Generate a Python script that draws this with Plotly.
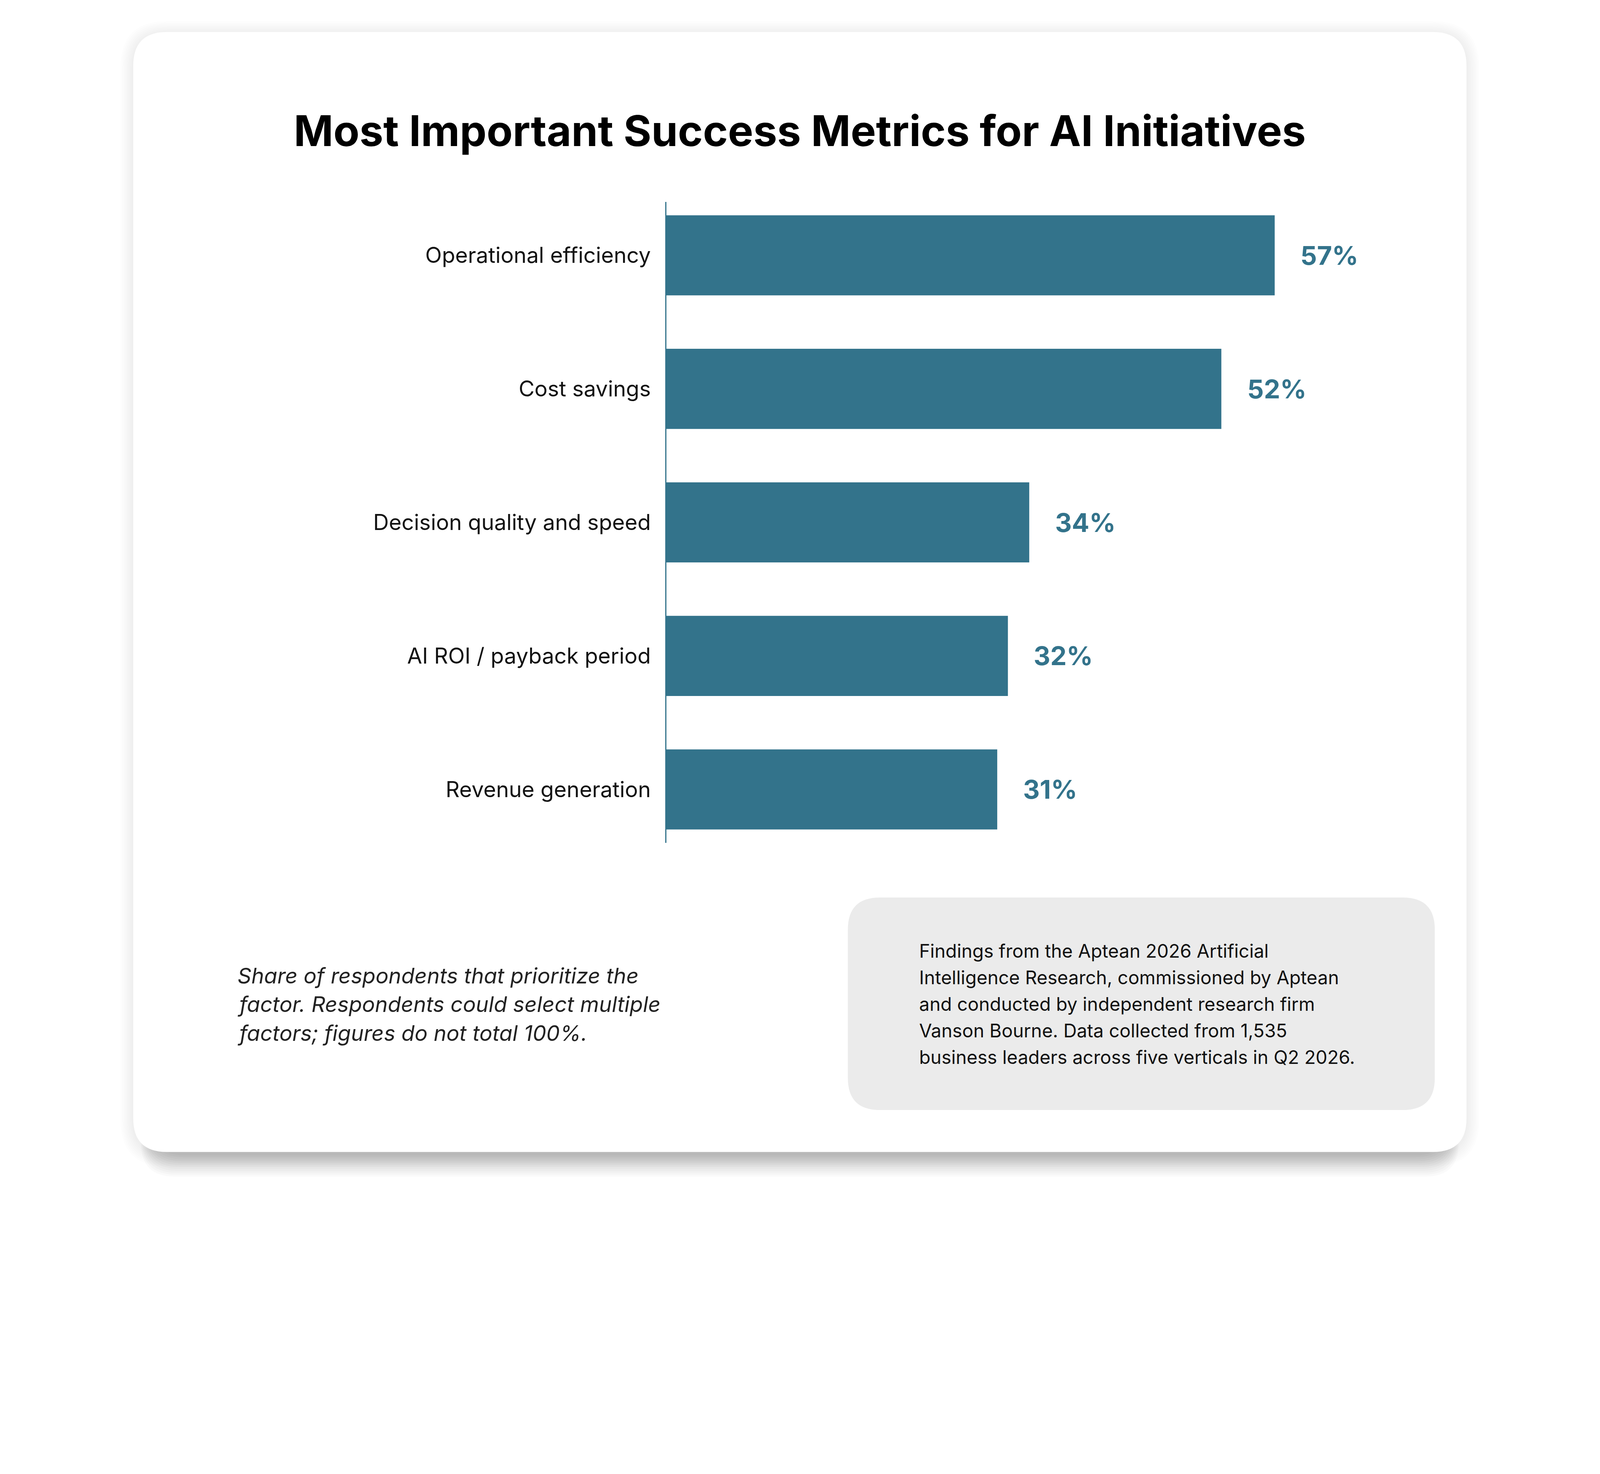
# horizontal bar chart: most important success metrics for AI initiatives
# card layout with rounded white panel, footnote and grey source box

import plotly.graph_objects as go

# Add data
metrics = [
    "Operational efficiency",
    "Cost savings",
    "Decision quality and speed",
    "AI ROI / payback period",
    "Revenue generation",
]
shares = [57, 52, 34, 32, 31]

title_text = "Most Important Success Metrics for AI Initiatives"
note_lines = [
    "Share of respondents that prioritize the",
    "factor. Respondents could select multiple",
    "factors; figures do not total 100%.",
]
source_lines = [
    "Findings from the Aptean 2026 Artificial",
    "Intelligence Research, commissioned by Aptean",
    "and conducted by independent research firm",
    "Vanson Bourne. Data collected from 1,535",
    "business leaders across five verticals in Q2 2026.",
]

BAR_COLOUR = "#33738B"
FONT = "Inter"

# the page is photographed at ~1.22x, so layout is written in picture pixels
# and converted to css pixels here (8px is the body margin)
S = 4096 / 5000
OFF = 8
W, H = 4080, 3070


def c(v):
    return v * S - OFF


def s(v):
    return v * S


L = c(2083)
R = W - c(4584)
T = c(631)
B = H - c(2634)
PW = W - L - R
PH = H - T - B


def px(x):
    return (c(x) - L) / PW


def py(y):
    return (H - B - c(y)) / PH


def rrect(x0, y0, x1, y1, r):
    # rounded rectangle path in paper coords, input in picture pixels
    pts = [
        ("M", [(x0 + r, y0)]),
        ("L", [(x1 - r, y0)]),
        ("Q", [(x1, y0), (x1, y0 + r)]),
        ("L", [(x1, y1 - r)]),
        ("Q", [(x1, y1), (x1 - r, y1)]),
        ("L", [(x0 + r, y1)]),
        ("Q", [(x0, y1), (x0, y1 - r)]),
        ("L", [(x0, y0 + r)]),
        ("Q", [(x0, y0), (x0 + r, y0)]),
    ]
    out = ""
    for cmd, coords in pts:
        out += cmd + " " + " ".join(f"{px(a):.5f},{py(b):.5f}" for a, b in coords) + " "
    return out + "Z"


fig = go.Figure(
    data=[
        go.Bar(
            y=metrics,
            x=shares,
            orientation="h",
            width=0.6,
            marker=dict(color=BAR_COLOUR, line=dict(width=0)),
            hoverinfo="skip",
        )
    ]
)

shapes = []
# soft ambient shadow round the card
for i in range(1, 9):
    e = 5 * i
    shapes.append(
        dict(
            type="path",
            path=rrect(417 - e, 100 - e + 6, 4583 + e, 3600 + e + 6, 105 + e),
            xref="paper",
            yref="paper",
            fillcolor="rgba(0,0,0,0.008)",
            line=dict(width=0),
            layer="below",
        )
    )
# drop shadow under the card
for i in range(1, 13):
    shapes.append(
        dict(
            type="path",
            path=rrect(417 + 60 - 3 * i, 300, 4583 - 60 + 3 * i, 3600 + 6 * i + 5, 105),
            xref="paper",
            yref="paper",
            fillcolor="rgba(0,0,0,0.02)",
            line=dict(width=0),
            layer="below",
        )
    )
# white card
shapes.append(
    dict(
        type="path",
        path=rrect(417, 100, 4583, 3600, 105),
        xref="paper",
        yref="paper",
        fillcolor="white",
        line=dict(width=0),
        layer="below",
    )
)
# grey source box
shapes.append(
    dict(
        type="path",
        path=rrect(2650, 2805, 4484, 3469, 100),
        xref="paper",
        yref="paper",
        fillcolor="#EBEBEB",
        line=dict(width=0),
        layer="below",
    )
)

annotations = [
    dict(
        text=title_text,
        x=px(2500),
        y=py(408),
        xref="paper",
        yref="paper",
        xanchor="center",
        yanchor="middle",
        showarrow=False,
        font=dict(family=FONT, size=s(133), color="#000000", weight=700),
    )
]
# value labels next to bars
for m, v in zip(metrics, shares):
    annotations.append(
        dict(
            text=f"{v}%",
            x=v,
            y=m,
            xref="x",
            yref="y",
            xanchor="left",
            yanchor="middle",
            xshift=64,
            showarrow=False,
            font=dict(family=FONT, size=s(81), color=BAR_COLOUR, weight=700),
        )
    )
# footnote
for k, line in enumerate(note_lines):
    annotations.append(
        dict(
            text=line,
            x=px(740),
            y=py(3048 + 90 * k),
            xref="paper",
            yref="paper",
            xanchor="left",
            yanchor="middle",
            showarrow=False,
            font=dict(family=FONT, size=s(67.5), color="#222222", style="italic"),
        )
    )
# source box text
for k, line in enumerate(source_lines):
    annotations.append(
        dict(
            text=line,
            x=px(2870),
            y=py(2972 + 83 * k),
            xref="paper",
            yref="paper",
            xanchor="left",
            yanchor="middle",
            showarrow=False,
            font=dict(family=FONT, size=s(58), color="#111111"),
        )
    )

fig.update_layout(
    width=W,
    height=H,
    autosize=False,
    margin=dict(l=L, r=R, t=T, b=B, pad=0),
    paper_bgcolor="white",
    plot_bgcolor="rgba(0,0,0,0)",
    showlegend=False,
    shapes=shapes,
    annotations=annotations,
    font=dict(family=FONT),
)

# modify y-axis
fig.update_yaxes(
    type="category",
    categoryorder="array",
    categoryarray=metrics,
    range=[4.4, -0.4],
    showline=True,
    linecolor=BAR_COLOUR,
    linewidth=2.5,
    showgrid=False,
    zeroline=False,
    ticks="",
    ticklabelstandoff=26,
    tickfont=dict(family=FONT, size=s(68), color="#111111"),
)

# modify x-axis
fig.update_xaxes(
    range=[0, 75],
    visible=False,
    showgrid=False,
    zeroline=False,
)

fig.write_html("out.html")
